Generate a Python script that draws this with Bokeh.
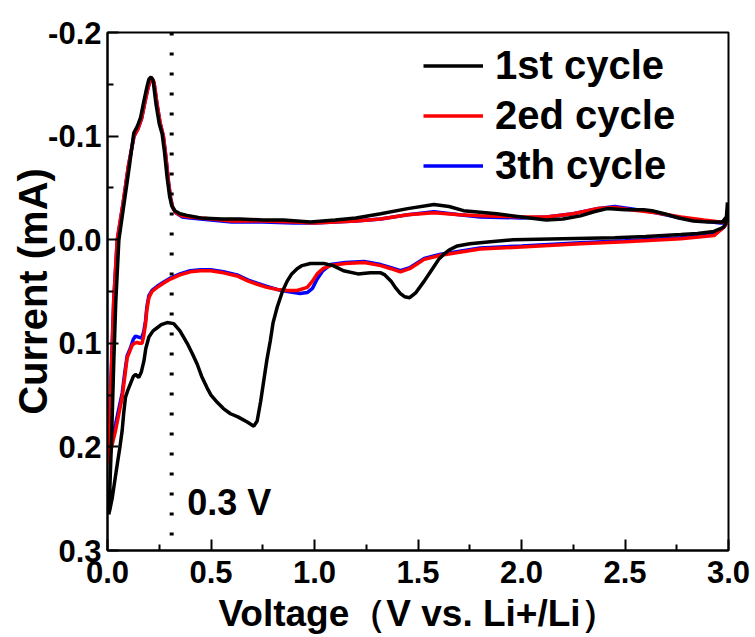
from bokeh.plotting import figure
from bokeh.models import (Range1d, FixedTicker, Legend, LegendItem, Span, Label,
                          CustomJSTickFormatter)
from bokeh.embed import file_html
from bokeh.resources import INLINE

# ---------------- data ----------------
series_names = ["1st cycle", "2ed cycle", "3th cycle"]
series_colors = ["#000000", "#ff0000", "#0000ff"]

v1 = [2.995, 2.988, 2.976, 2.93, 2.85, 2.77, 2.6, 2.45, 2.2, 1.96, 1.85, 1.75, 1.69, 1.65,
      1.625, 1.60, 1.57, 1.53, 1.49, 1.46, 1.435, 1.415, 1.39, 1.37, 1.34, 1.32, 1.27, 1.21,
      1.14, 1.09, 1.045, 0.98, 0.94, 0.916, 0.89, 0.868, 0.845, 0.82, 0.80, 0.787, 0.77,
      0.755, 0.74, 0.723, 0.707, 0.675, 0.63, 0.594, 0.56, 0.53, 0.50, 0.481, 0.455, 0.433,
      0.41, 0.385, 0.35, 0.32, 0.288, 0.26, 0.24, 0.22, 0.20, 0.185, 0.176, 0.163, 0.151,
      0.135, 0.125, 0.111, 0.097, 0.087, 0.078, 0.071, 0.060, 0.047, 0.035, 0.023, 0.012,
      0.006,
      0.009, 0.013, 0.020, 0.030, 0.040, 0.055, 0.080, 0.105, 0.127, 0.145, 0.160, 0.175,
      0.190, 0.200, 0.210, 0.220, 0.235, 0.250, 0.264, 0.275, 0.288, 0.300, 0.310, 0.325,
      0.350, 0.385, 0.45, 0.55, 0.64, 0.75, 0.85, 0.98, 1.10, 1.20, 1.32, 1.45, 1.577, 1.65,
      1.72, 1.88, 2.00, 2.12, 2.20, 2.285, 2.35, 2.414, 2.50, 2.59, 2.63, 2.69, 2.76, 2.83,
      2.90, 2.97, 2.99, 2.995]
i1 = [-0.036, -0.016, -0.012, -0.008, -0.006, -0.005, -0.003, -0.002, -0.001, 0.000, 0.002,
      0.004, 0.006, 0.010, 0.014, 0.019, 0.028, 0.040, 0.051, 0.056, 0.055, 0.052, 0.046,
      0.040, 0.034, 0.032, 0.032, 0.033, 0.030, 0.025, 0.023, 0.023, 0.025, 0.028, 0.033,
      0.040, 0.050, 0.065, 0.080, 0.097, 0.116, 0.136, 0.156, 0.175, 0.180, 0.176, 0.171,
      0.168, 0.163, 0.157, 0.150, 0.143, 0.132, 0.120, 0.110, 0.100, 0.088, 0.081, 0.080,
      0.082, 0.085, 0.088, 0.094, 0.105, 0.117, 0.128, 0.133, 0.130, 0.132, 0.139, 0.146,
      0.152, 0.168, 0.184, 0.200, 0.217, 0.233, 0.249, 0.260, 0.265,
      0.255, 0.230, 0.190, 0.120, 0.060, 0.000, -0.035, -0.070, -0.103, -0.110, -0.118,
      -0.133, -0.147, -0.155, -0.157, -0.154, -0.130, -0.112, -0.102, -0.085, -0.060,
      -0.042, -0.033, -0.028, -0.025, -0.0235, -0.021, -0.020, -0.020, -0.019, -0.019,
      -0.017, -0.019, -0.021, -0.025, -0.030, -0.034, -0.032, -0.028, -0.025, -0.022,
      -0.019, -0.020, -0.023, -0.027, -0.030, -0.029, -0.029, -0.028, -0.025, -0.021,
      -0.018, -0.017, -0.017, -0.022, -0.036]

v2 = [2.995, 2.977, 2.93, 2.77, 2.5, 2.285, 2.0, 1.80, 1.61, 1.53, 1.46, 1.415, 1.37, 1.32,
      1.24, 1.15, 1.077, 1.04, 1.013, 0.99, 0.965, 0.916, 0.87, 0.82, 0.77, 0.723, 0.68,
      0.626, 0.56, 0.498, 0.45, 0.40, 0.35, 0.304, 0.27, 0.24, 0.215, 0.20, 0.19, 0.184,
      0.175, 0.167, 0.155, 0.143, 0.13, 0.119, 0.107, 0.095, 0.085, 0.071, 0.055, 0.039,
      0.02, 0.006,
      0.012, 0.02, 0.03, 0.047, 0.075, 0.10, 0.128, 0.147, 0.165, 0.18, 0.195, 0.205, 0.215,
      0.225, 0.24, 0.255, 0.27, 0.282, 0.295, 0.305, 0.315, 0.33, 0.36, 0.40, 0.50, 0.60,
      0.75, 0.90, 1.00, 1.10, 1.20, 1.32, 1.45, 1.577, 1.70, 1.80, 2.00, 2.12, 2.25, 2.365,
      2.45, 2.527, 2.65, 2.77, 2.88, 2.96, 2.995]
i2 = [-0.017, -0.012, -0.004, -0.001, 0.002, 0.004, 0.007, 0.009, 0.015, 0.019, 0.028, 0.031,
      0.028, 0.025, 0.022, 0.023, 0.025, 0.028, 0.033, 0.040, 0.046, 0.049, 0.049, 0.048,
      0.046, 0.043, 0.040, 0.035, 0.032, 0.030, 0.030, 0.031, 0.034, 0.038, 0.042, 0.046,
      0.050, 0.056, 0.068, 0.081, 0.093, 0.100, 0.100, 0.099, 0.100, 0.102, 0.108, 0.114,
      0.130, 0.152, 0.168, 0.184, 0.200, 0.216,
      0.170, 0.120, 0.060, 0.000, -0.035, -0.070, -0.100, -0.107, -0.117, -0.132, -0.146,
      -0.153, -0.156, -0.152, -0.130, -0.112, -0.100, -0.080, -0.055, -0.040, -0.031,
      -0.026, -0.023, -0.022, -0.020, -0.018, -0.018, -0.017, -0.016, -0.017, -0.018,
      -0.020, -0.024, -0.026, -0.024, -0.023, -0.022, -0.022, -0.025, -0.030, -0.031,
      -0.029, -0.026, -0.022, -0.019, -0.017, -0.017]

v3 = [2.995, 2.977, 2.93, 2.77, 2.5, 2.285, 2.0, 1.80, 1.61, 1.53, 1.46, 1.415, 1.37, 1.32,
      1.24, 1.15, 1.077, 1.04, 1.013, 0.99, 0.965, 0.93, 0.87, 0.82, 0.77, 0.723, 0.68,
      0.626, 0.56, 0.498, 0.45, 0.40, 0.35, 0.304, 0.27, 0.24, 0.215, 0.20, 0.19, 0.184,
      0.175, 0.165, 0.15, 0.135, 0.125, 0.11, 0.095, 0.085, 0.071, 0.055, 0.039, 0.02, 0.006,
      0.012, 0.02, 0.03, 0.047, 0.075, 0.10, 0.128, 0.147, 0.165, 0.18, 0.195, 0.205, 0.215,
      0.225, 0.24, 0.255, 0.27, 0.282, 0.295, 0.305, 0.315, 0.33, 0.36, 0.40, 0.50, 0.60,
      0.75, 0.90, 1.00, 1.10, 1.20, 1.32, 1.45, 1.577, 1.70, 1.80, 2.00, 2.12, 2.25, 2.365,
      2.45, 2.527, 2.65, 2.77, 2.88, 2.96, 2.995]
i3 = [-0.017, -0.012, -0.005, -0.002, 0.001, 0.003, 0.006, 0.008, 0.014, 0.018, 0.027, 0.030,
      0.027, 0.024, 0.021, 0.022, 0.024, 0.030, 0.038, 0.047, 0.051, 0.052, 0.050, 0.048,
      0.045, 0.042, 0.039, 0.034, 0.031, 0.029, 0.029, 0.030, 0.033, 0.037, 0.041, 0.045,
      0.049, 0.054, 0.065, 0.078, 0.089, 0.095, 0.094, 0.093, 0.096, 0.105, 0.112, 0.126,
      0.148, 0.163, 0.178, 0.193, 0.207,
      0.165, 0.115, 0.058, 0.000, -0.035, -0.070, -0.100, -0.107, -0.117, -0.132, -0.146,
      -0.153, -0.155, -0.151, -0.130, -0.112, -0.100, -0.080, -0.055, -0.040, -0.031,
      -0.026, -0.022, -0.021, -0.019, -0.017, -0.017, -0.016, -0.016, -0.017, -0.018,
      -0.020, -0.024, -0.027, -0.024, -0.022, -0.021, -0.022, -0.025, -0.030, -0.032,
      -0.030, -0.026, -0.021, -0.018, -0.016, -0.017]

x_ticks = [0.0, 0.5, 1.0, 1.5, 2.0, 2.5, 3.0]
x_tick_labels = ["0.0", "0.5", "1.0", "1.5", "2.0", "2.5", "3.0"]
x_minor = [0.25, 0.75, 1.25, 1.75, 2.25, 2.75]
y_ticks = [-0.2, -0.1, 0.0, 0.1, 0.2, 0.3]
y_tick_labels = ["-0.2", "-0.1", "0.0", "0.1", "0.2", "0.3"]
y_minor = [-0.15, -0.05, 0.05, 0.15, 0.25]

marker_v = 0.31
marker_text = "0.3 V"
marker_text_pos = (0.385, 0.254)

y_title = "Current (mA)"
x_title = "Voltage\uff08V vs. Li+/Li\uff09"

FONT = "Liberation Sans"

# ---------------- figure ----------------
p = figure(width=752, height=636,
           x_range=Range1d(0, 3), y_range=Range1d(0.3, -0.2),
           output_backend="svg", toolbar_location=None,
           min_border_left=107, min_border_right=24,
           min_border_top=32, min_border_bottom=85)

p.xgrid.visible = False
p.ygrid.visible = False
p.outline_line_color = "black"
p.outline_line_width = 2
p.background_fill_color = "white"
p.border_fill_color = "white"

fmt_code = """
let best = 0, d = Infinity;
for (let k = 0; k < tv.length; k++) {
  const e = Math.abs(tv[k] - tick);
  if (e < d) { d = e; best = k; }
}
return tl[best];
"""

p.xaxis.ticker = FixedTicker(ticks=x_ticks, minor_ticks=x_minor)
p.yaxis.ticker = FixedTicker(ticks=y_ticks, minor_ticks=y_minor)
p.xaxis.formatter = CustomJSTickFormatter(args=dict(tv=x_ticks, tl=x_tick_labels), code=fmt_code)
p.yaxis.formatter = CustomJSTickFormatter(args=dict(tv=y_ticks, tl=y_tick_labels), code=fmt_code)

for ax in (p.xaxis[0], p.yaxis[0]):
    ax.axis_line_color = "black"
    ax.axis_line_width = 2
    ax.major_tick_line_color = "black"
    ax.major_tick_line_width = 2
    ax.minor_tick_line_color = "black"
    ax.minor_tick_line_width = 2
    ax.major_tick_in = 11
    ax.major_tick_out = 0
    ax.minor_tick_in = 6
    ax.minor_tick_out = 0
    ax.major_label_text_font = FONT
    ax.major_label_text_font_style = "bold"
    ax.major_label_text_font_size = "31px"
    ax.major_label_text_color = "black"
    ax.axis_label_text_font = FONT
    ax.axis_label_text_font_style = "bold"
    ax.axis_label_text_color = "black"

p.xaxis.major_label_standoff = 10
p.yaxis.major_label_standoff = 6

p.yaxis.axis_label = y_title
p.yaxis.axis_label_text_font_size = "40px"
p.yaxis.axis_label_standoff = -10

p.xaxis.axis_label = x_title
p.xaxis.axis_label_text_font_size = "37px"
p.xaxis.axis_label_standoff = 7

# curves (blue under red under black)
r3 = p.line(v3, i3, line_color=series_colors[2], line_width=3.5)
r2 = p.line(v2, i2, line_color=series_colors[1], line_width=3.5)
r1 = p.line(v1, i1, line_color=series_colors[0], line_width=3.5)

# dotted marker line
p.add_layout(Span(location=marker_v, dimension="height", line_color="black",
                  line_width=4, line_dash="3 17"))

p.add_layout(Label(x=marker_text_pos[0], y=marker_text_pos[1], text=marker_text,
                   text_font=FONT, text_font_style="bold", text_font_size="36px",
                   text_color="black", text_baseline="alphabetic", text_align="left"))

legend = Legend(items=[LegendItem(label=series_names[0], renderers=[r1]),
                       LegendItem(label=series_names[1], renderers=[r2]),
                       LegendItem(label=series_names[2], renderers=[r3])],
                location=(316, 360), orientation="vertical",
                label_text_font=FONT, label_text_font_style="bold",
                label_text_font_size="40px", label_text_color="black",
                glyph_width=60, glyph_height=49, label_height=49, spacing=1,
                padding=0, margin=0, label_standoff=12,
                border_line_color=None, background_fill_alpha=0)
p.add_layout(legend)

open("out.html", "w").write(file_html(p, INLINE))
